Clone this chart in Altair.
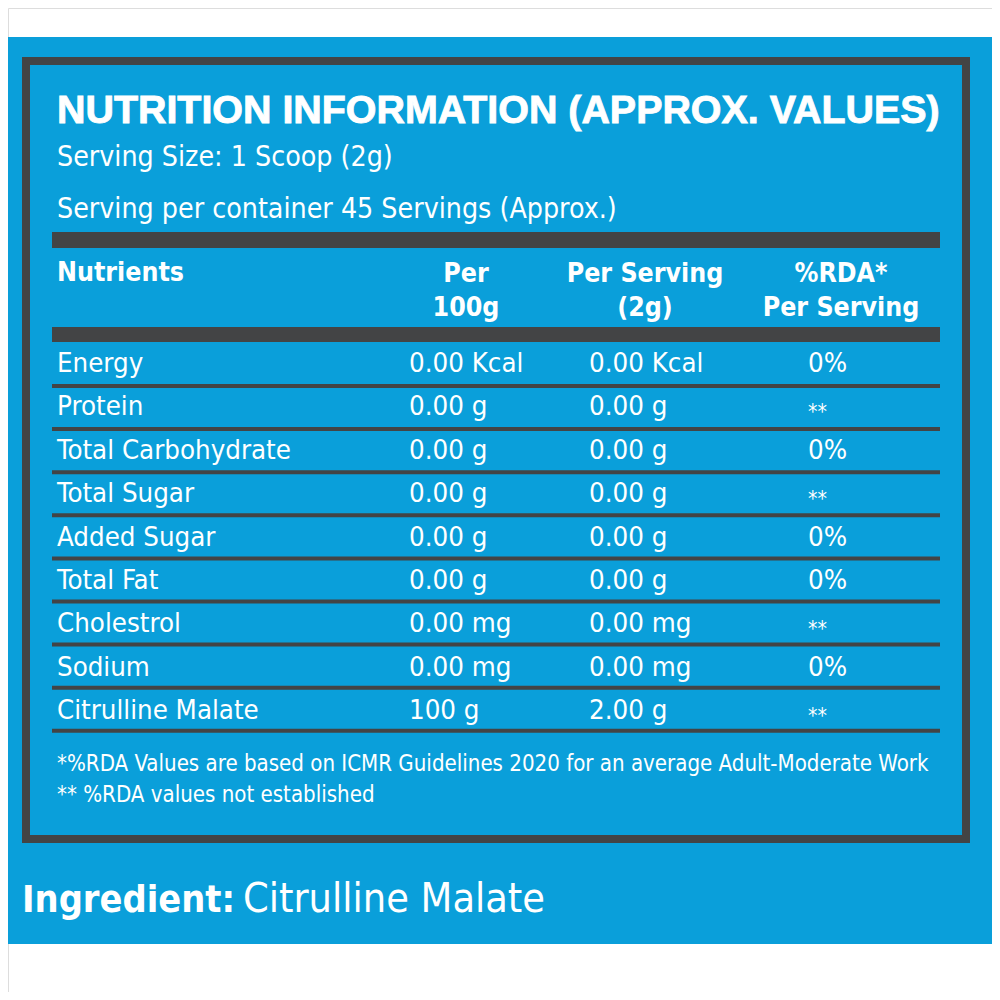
import altair as alt
import pandas as pd

# ---------------- content ----------------
title = "NUTRITION INFORMATION (APPROX. VALUES)"
serving_lines = ["Serving Size: 1 Scoop (2g)", "Serving per container 45 Servings (Approx.)"]
header_nutrients = "Nutrients"
header_cols = [["Per", "100g"], ["Per Serving", "(2g)"], ["%RDA*", "Per Serving"]]
nutrients = ["Energy", "Protein", "Total Carbohydrate", "Total Sugar", "Added Sugar",
             "Total Fat", "Cholestrol", "Sodium", "Citrulline Malate"]
per_100g = ["0.00 Kcal", "0.00 g", "0.00 g", "0.00 g", "0.00 g", "0.00 g",
            "0.00 mg", "0.00 mg", "100 g"]
per_serving = ["0.00 Kcal", "0.00 g", "0.00 g", "0.00 g", "0.00 g", "0.00 g",
               "0.00 mg", "0.00 mg", "2.00 g"]
rda = ["0%", "**", "0%", "**", "0%", "0%", "**", "0%", "**"]
footnotes = ["*%RDA Values are based on ICMR Guidelines 2020 for an average Adult-Moderate Work",
             "** %RDA values not established"]
ingredient_label = "Ingredient:"
ingredient_value = "Citrulline Malate"

# ---------------- layout ----------------
W = H = 984
OFF = 8
BLUE = "#0a9fda"
GRAY = "#434445"
WHITE = "#ffffff"
NARROW = "DejaVu Sans Condensed, DejaVu Sans, sans-serif"
WIDE = "Liberation Sans, Arial, sans-serif"

xs = alt.Scale(domain=[OFF, OFF + W], nice=False, zero=False)
ys = alt.Scale(domain=[OFF, OFF + H], nice=False, zero=False, reverse=True)

ROW0, PITCH = 372, 43.4
RULE0, RPITCH = 386, 43.1

rects = [dict(x=-10, x2=1010, y=37, y2=944, c=BLUE)]
# border
rects += [dict(x=22, x2=970, y=57, y2=65, c=GRAY),
          dict(x=22, x2=970, y=835, y2=843, c=GRAY),
          dict(x=22, x2=30, y=57, y2=843, c=GRAY),
          dict(x=962, x2=970, y=57, y2=843, c=GRAY)]
# thick bars
rects += [dict(x=52, x2=940, y=232, y2=248, c=GRAY),
          dict(x=52, x2=940, y=327, y2=342, c=GRAY)]
# row rules
for i in range(len(nutrients)):
    yc = RULE0 + i * RPITCH
    rects.append(dict(x=52, x2=940, y=yc - 2, y2=yc + 2, c=GRAY))
rect_df = pd.DataFrame(rects)

rect_layer = alt.Chart(rect_df).mark_rect().encode(
    x=alt.X("x:Q", scale=xs, axis=None),
    x2="x2:Q",
    y=alt.Y("y:Q", scale=ys, axis=None),
    y2="y2:Q",
    color=alt.Color("c:N", scale=None),
)


def text_layer(items, size, font, weight="normal", align="left", stroke_w=0):
    df = pd.DataFrame(items, columns=["t", "x", "y"])
    kw = {}
    if stroke_w:
        kw = dict(stroke=WHITE, strokeWidth=stroke_w)
    return alt.Chart(df).mark_text(
        align=align, baseline="alphabetic", font=font, fontSize=size,
        fontWeight=weight, color=WHITE, **kw
    ).encode(
        x=alt.X("x:Q", scale=xs, axis=None),
        y=alt.Y("y:Q", scale=ys, axis=None),
        text="t:N",
    )


layers = [rect_layer]
layers.append(text_layer([(title, 57, 123)], 39.4, WIDE, "bold", stroke_w=0.9))
layers.append(text_layer([(serving_lines[0], 57, 166), (serving_lines[1], 57, 218)], 28.3, NARROW))
layers.append(text_layer([(header_nutrients, 57, 281)], 26.5, NARROW, "bold"))
col_centers = [466, 645, 841]
hdr = []
for cx, (l1, l2) in zip(col_centers, header_cols):
    hdr += [(l1, cx, 282), (l2, cx, 316)]
layers.append(text_layer(hdr, 26.5, NARROW, "bold", "center"))

rows = []
pct = []
stars = []
for i, (n, a, b, r) in enumerate(zip(nutrients, per_100g, per_serving, rda)):
    yb = ROW0 + i * PITCH
    rows += [(n, 57, yb), (a, 409, yb), (b, 589, yb)]
    if r == "**":
        stars.append((r, 808, yb + 4))
    else:
        pct.append((r, 808, yb))
layers.append(text_layer(rows + pct, 27.4, NARROW))
layers.append(text_layer(stars, 21, NARROW))

layers.append(text_layer([(footnotes[0], 57, 771), (footnotes[1], 57, 802)], 22.1, NARROW))
layers.append(text_layer([(ingredient_label, 22, 912)], 37.6, NARROW, "bold"))
layers.append(text_layer([(ingredient_value, 243, 912)], 41, NARROW))

chart = alt.layer(*layers).properties(
    width=W, height=H, padding=0, autosize=alt.AutoSizeParams(type="none")
).configure_view(stroke="transparent", strokeWidth=0).configure(background=WHITE)

chart.save("out.html", embed_options={"renderer": "svg", "actions": False})
